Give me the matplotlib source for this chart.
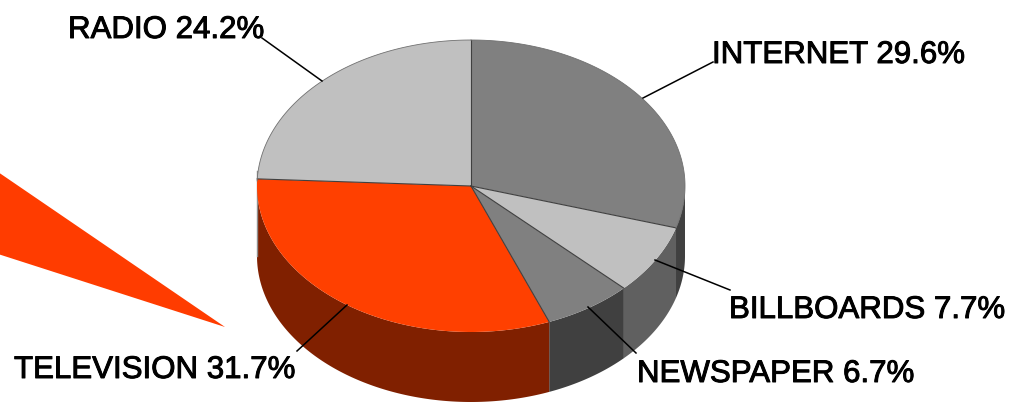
import numpy as np
import matplotlib
matplotlib.use("Agg")
import matplotlib.pyplot as plt
import matplotlib.patheffects as pe

labels = ["INTERNET", "BILLBOARDS", "NEWSPAPER", "TELEVISION", "RADIO"]
shares = [29.6, 7.7, 6.7, 31.7, 24.2]
top_colors = ["#808080", "#c0c0c0", "#808080", "#ff4000", "#c0c0c0"]
wall_colors = ["#404040", "#606060", "#404040", "#802000", "#606060"]

# label anchor (left, baseline) and leader line, in image pixels
label_pos = [(712, 63), (729, 318), (637, 382), (14, 378), (68, 38)]
leaders = [
    ((643, 98), (713, 62)),
    ((655, 260), (730, 290)),
    ((588, 307), (636, 353)),
    ((347, 305), (297, 351)),
    ((322, 81), (262, 38)),
]
arrow = [(-2, 172), (225, 327), (-2, 254)]

cx, cy = 471, 186
rx, ry = 214, 146
depth = 70


def rim(a0, a1, dy=0):
    t = np.radians(np.linspace(a0, a1, 120))
    return cx + rx * np.cos(t), cy - ry * np.sin(t) + dy


fig = plt.figure(figsize=(10.17, 4.05), dpi=100)
ax = fig.add_axes([0, 0, 1, 1])
ax.set_xlim(0, 1017)
ax.set_ylim(405, 0)
ax.axis("off")

ends = 90 - 3.6 * np.cumsum(shares) * 100 / sum(shares)
starts = np.r_[90, ends[:-1]]

# side walls, only the front half of the rim is visible
for a0, a1, color in zip(starts, ends, wall_colors):
    lo, hi = min(a0, 0), max(a1, -180)
    if lo <= hi:
        continue
    x, y = rim(lo, hi)
    xb, yb = rim(hi, lo, depth)
    ax.fill(np.r_[x, xb], np.r_[y, yb], color=color, lw=0, zorder=1)
ax.plot([cx - rx, cx - rx], [cy - 15, cy + depth], color="#909090", lw=1, zorder=1)

# top face, the dark edge shows on the spokes and not on the front rim
for a0, a1, color in zip(starts, ends, top_colors):
    x, y = rim(a0, a1)
    ax.fill(np.r_[cx, x], np.r_[cy, y], facecolor=color, lw=0, zorder=2)
for a in starts:
    x, y = rim(a, a)
    ax.plot([cx, x[0]], [cy, y[0]], color="#404040", lw=0.8, zorder=2)
x, y = rim(90, -17)
ax.plot(x, y, color="#707070", lw=0.6, zorder=2)
x, y = rim(90, 178)
ax.plot(x, y, color="#707070", lw=0.6, zorder=2)

ax.fill(*zip(*arrow), color="#ff3c00", lw=0, zorder=3)

for (p0, p1) in leaders:
    ax.plot([p0[0], p1[0]], [p0[1], p1[1]], color="black", lw=1.1, zorder=4)

for name, share, (x, y) in zip(labels, shares, label_pos):
    ax.text(x, y, f"{name} {share}%", family="Liberation Sans", fontsize=22.5,
            ha="left", va="baseline", color="black", zorder=5,
            path_effects=[pe.withStroke(linewidth=0.7, foreground="black")])

fig.savefig("out.png", dpi=100)
